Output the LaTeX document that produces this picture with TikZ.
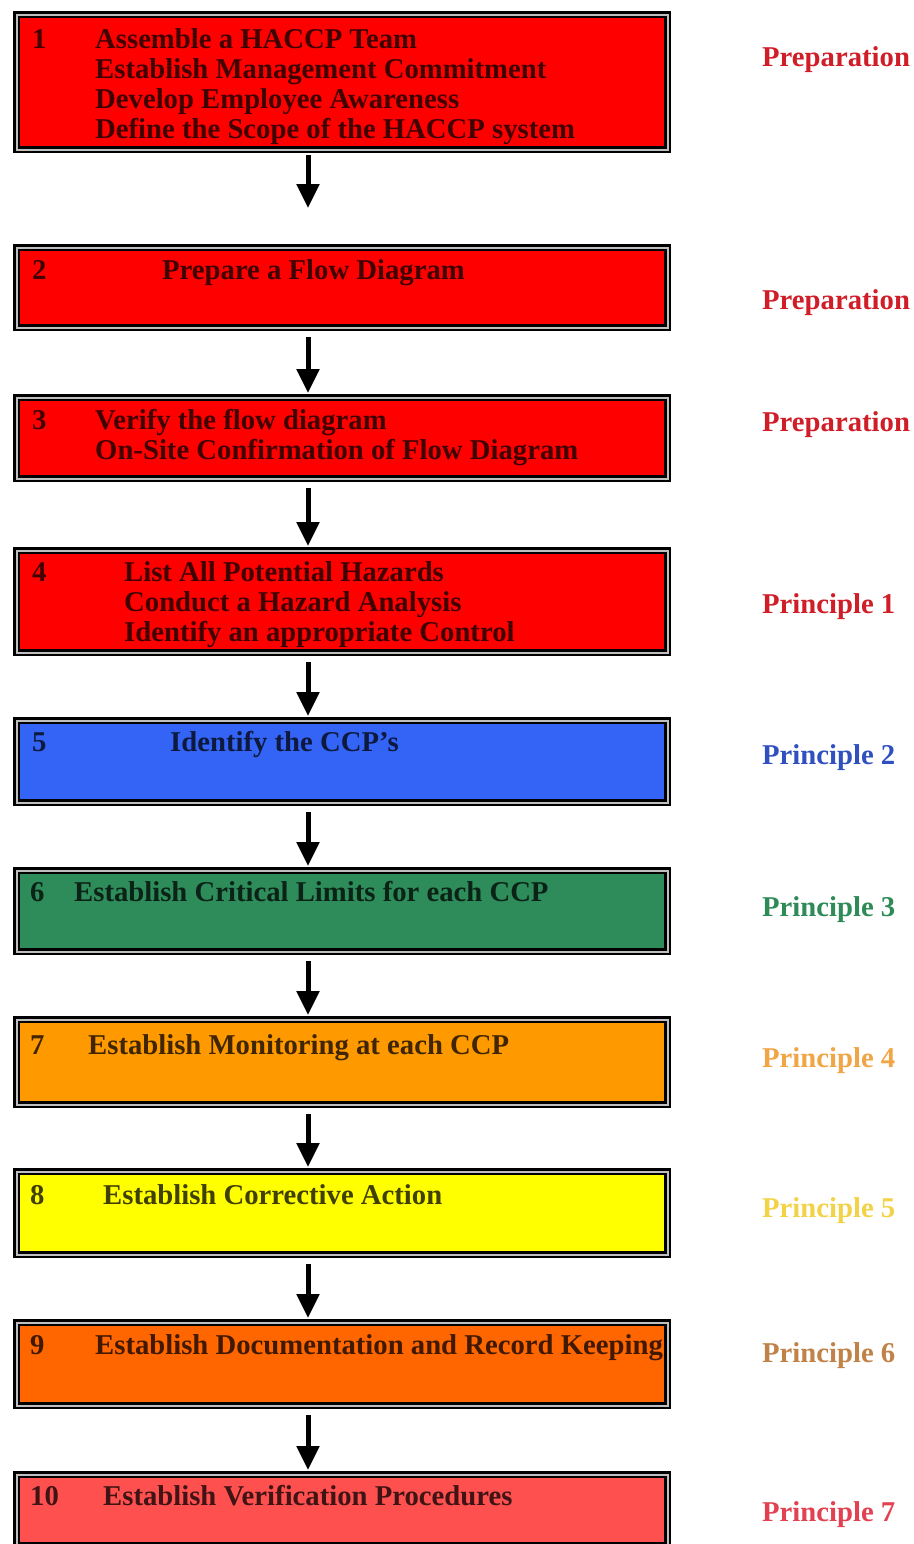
\documentclass[tikz,border=0pt]{standalone}
\usepackage{fontspec}
\setmainfont{Liberation Serif}
\usetikzlibrary{arrows.meta}

\definecolor{boxred}{RGB}{255,0,0}
\definecolor{boxblue}{RGB}{52,100,245}
\definecolor{boxgreen}{RGB}{46,140,90}
\definecolor{boxorange}{RGB}{255,153,0}
\definecolor{boxyellow}{RGB}{255,255,0}
\definecolor{boxdeeporange}{RGB}{255,102,0}
\definecolor{boxsalmon}{RGB}{255,80,80}
\definecolor{labred}{RGB}{208,30,40}
\definecolor{labblue}{RGB}{48,80,192}
\definecolor{labgreen}{RGB}{46,139,87}
\definecolor{laborange}{RGB}{240,165,70}
\definecolor{labyellow}{RGB}{242,210,70}
\definecolor{labbrown}{RGB}{192,130,70}
\definecolor{labpink}{RGB}{225,65,80}

\begin{document}
\begin{tikzpicture}
		[x=1pt,y=-1pt,
		 font=\fontsize{28.7}{30}\selectfont\bfseries,
		 box/.style={draw=black,line width=2.5pt,double=white!75!black,double distance=2pt,
		             fill=#1,minimum width=651pt,inner sep=0pt,anchor=north west},
		 txt/.style={text=#1!25!black,anchor=base west,align=left,inner sep=0pt},
		 lab/.style={text=#1,anchor=base west,inner sep=0pt},
		 flow/.style={line width=5pt,-{Triangle[width=22pt,length=24pt]},shorten <=8pt,shorten >=3.5pt}]

		\useasboundingbox (0,0) rectangle (913,1544);
		\coordinate (ax) at (308,0);

		% steps
		\node[box=boxred,minimum height=135pt] (box1) at (15.5,13.5) {};
		\node[box=boxred,minimum height=80pt] (box2) at (15.5,246.5) {};
		\node[box=boxred,minimum height=81pt] (box3) at (15.5,396.5) {};
		\node[box=boxred,minimum height=102pt] (box4) at (15.5,549.5) {};
		\node[box=boxblue,minimum height=82pt] (box5) at (15.5,719.5) {};
		\node[box=boxgreen,minimum height=81pt] (box6) at (15.5,869.5) {};
		\node[box=boxorange,minimum height=85pt] (box7) at (15.5,1018.5) {};
		\node[box=boxyellow,minimum height=83pt] (box8) at (15.5,1170.5) {};
		\node[box=boxdeeporange,minimum height=83pt] (box9) at (15.5,1321.5) {};
		\node[box=boxsalmon,minimum height=71pt] (box10) at (15.5,1473.5) {};

		% numbers
		\node[txt=boxred] (num1) at (32,49) {1};
		\node[txt=boxred] (num2) at (32,279) {2};
		\node[txt=boxred] (num3) at (32,429) {3};
		\node[txt=boxred] (num4) at (32,581) {4};
		\node[txt=boxblue] (num5) at (32,751) {5};
		\node[txt=boxgreen] (num6) at (30,901) {6};
		\node[txt=boxorange] (num7) at (30,1054) {7};
		\node[txt=boxyellow] (num8) at (30,1204) {8};
		\node[txt=boxdeeporange] (num9) at (30,1354) {9};
		\node[txt=boxsalmon] (num10) at (30,1505) {10};

		% texts (base = last line)
		\node[txt=boxred] (txt1) at (95,139) {Assemble a HACCP Team\\Establish Management Commitment\\Develop Employee Awareness\\Define the Scope of the HACCP system};
		\node[txt=boxred] (txt2) at (162,279) {Prepare a Flow Diagram};
		\node[txt=boxred] (txt3) at (95,459) {Verify the flow diagram\\On-Site Confirmation of Flow Diagram};
		\node[txt=boxred] (txt4) at (124,641) {List All Potential Hazards\\Conduct a Hazard Analysis\\Identify an appropriate Control};
		\node[txt=boxblue] (txt5) at (170,751) {Identify the CCP's};
		\node[txt=boxgreen] (txt6) at (74,901) {Establish Critical Limits for each CCP};
		\node[txt=boxorange] (txt7) at (88,1054) {Establish Monitoring at each CCP};
		\node[txt=boxyellow] (txt8) at (103,1204) {Establish Corrective Action};
		\node[txt=boxdeeporange] (txt9) at (95,1354) {Establish Documentation and Record Keeping};
		\node[txt=boxsalmon] (txt10) at (103,1505) {Establish Verification Procedures};

		% stages
		\node[lab=labred] (lab1) at (762,67) {Preparation};
		\node[lab=labred] (lab2) at (762,309) {Preparation};
		\node[lab=labred] (lab3) at (762,431) {Preparation};
		\node[lab=labred] (lab4) at (762,613) {Principle 1};
		\node[lab=labblue] (lab5) at (762,764) {Principle 2};
		\node[lab=labgreen] (lab6) at (762,916) {Principle 3};
		\node[lab=laborange] (lab7) at (762,1067) {Principle 4};
		\node[lab=labyellow] (lab8) at (762,1217) {Principle 5};
		\node[lab=labbrown] (lab9) at (762,1362) {Principle 6};
		\node[lab=labpink] (lab10) at (762,1521) {Principle 7};

		% arrows
		\draw[flow,shorten <=3.5pt,shorten >=38.5pt] (box1.south -| ax) -- (box2.north -| ax);
		\foreach \i/\j in {2/3,3/4,4/5,5/6,6/7,7/8,8/9,9/10}
			\draw[flow] (box\i.south -| ax) -- (box\j.north -| ax);

	\end{tikzpicture}
\end{document}
